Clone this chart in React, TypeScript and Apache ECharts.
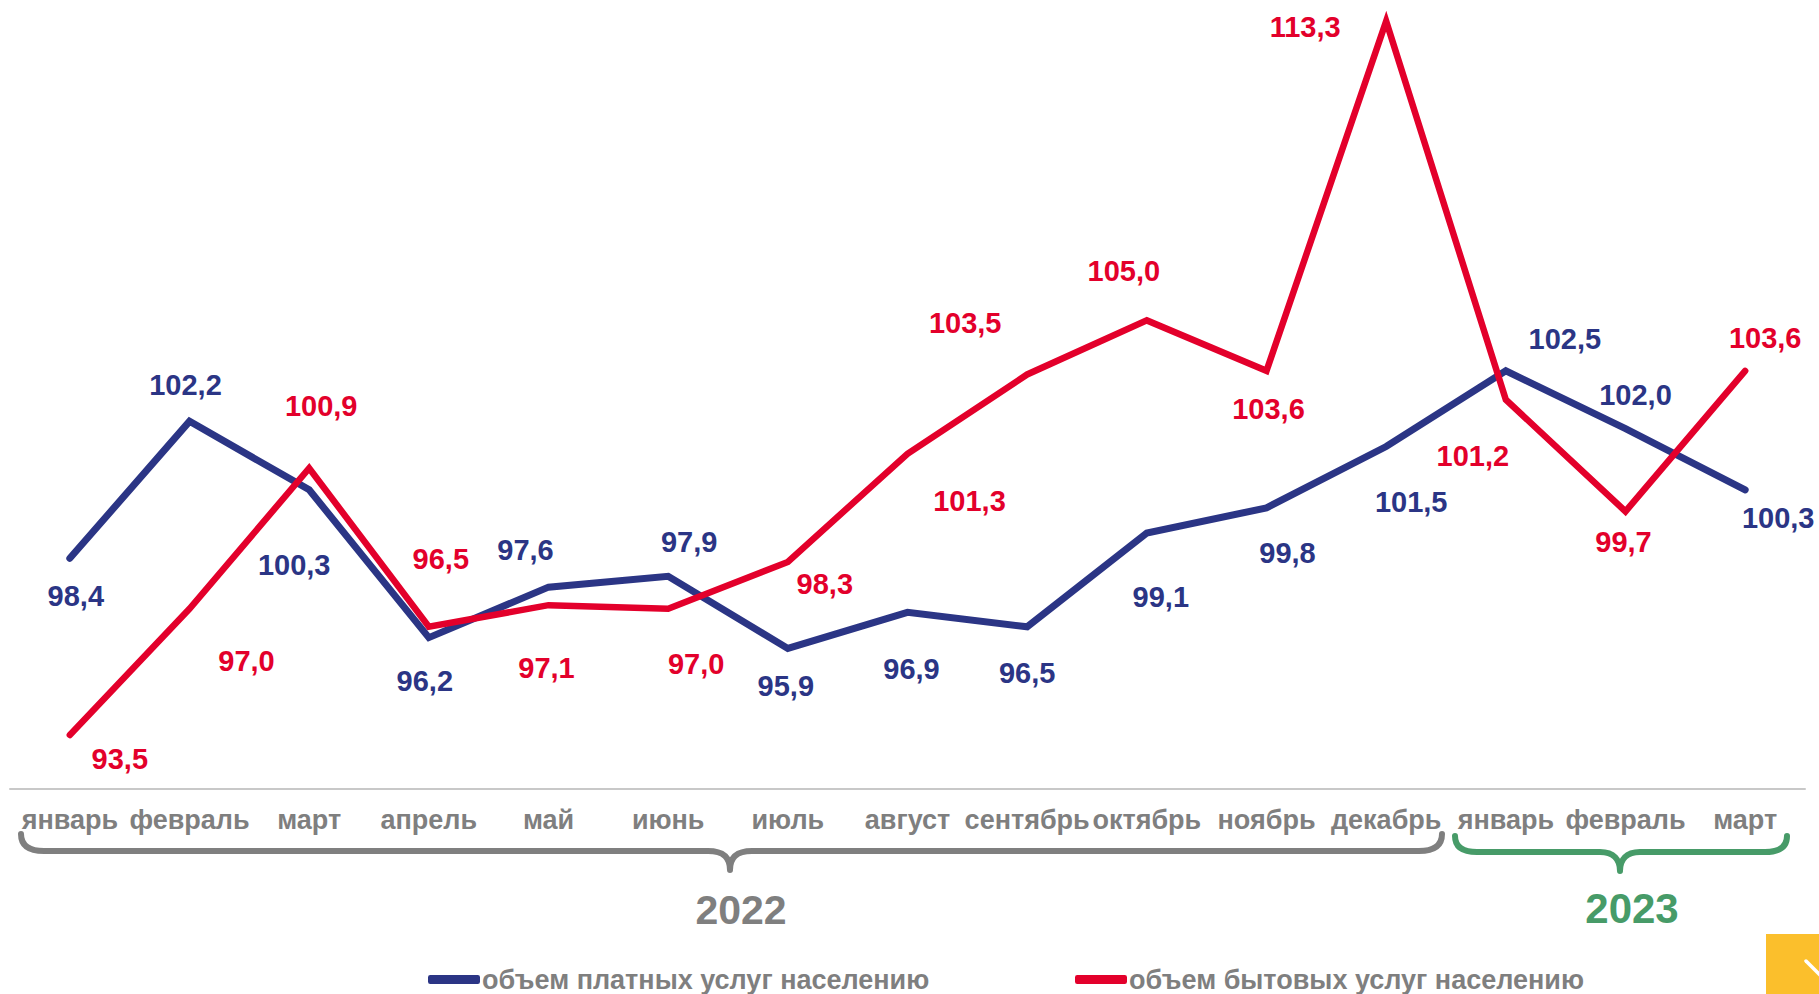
import React, { useEffect, useRef } from "react";
import * as echarts from "echarts";

const categories = [
  "январь", "февраль", "март", "апрель", "май", "июнь", "июль", "август",
  "сентябрь", "октябрь", "ноябрь", "декабрь", "январь", "февраль", "март",
];

// positions of the drawn lines
const paidValues = [98.4, 102.2, 100.3, 96.2, 97.6, 97.9, 95.9, 96.9, 96.5, 99.1, 99.8, 101.5, 103.6, 102.0, 100.3];
const householdValues = [93.5, 97.0, 100.9, 96.5, 97.1, 97.0, 98.3, 101.3, 103.5, 105.0, 103.6, 113.3, 102.8, 99.7, 103.6];

// printed data labels
const paidLabels = ["98,4", "102,2", "100,3", "96,2", "97,6", "97,9", "95,9", "96,9", "96,5", "99,1", "99,8", "101,5", "102,5", "102,0", "100,3"];
const householdLabels = ["93,5", "97,0", "100,9", "96,5", "97,1", "97,0", "98,3", "101,3", "103,5", "105,0", "103,6", "113,3", "101,2", "99,7", "103,6"];

const seriesNames = ["объем платных услуг населению", "объем бытовых услуг населению"];
const years = ["2022", "2023"];

// label offsets (px) from each point
const paidOffsets = [
  [6, 38], [-4, -36], [-15, 75], [-4, 43], [-23, -37], [21, -34], [-2, 38], [4, 57],
  [0, 46], [14, 64], [21, 45], [25, 55], [59, -32], [10, -34], [33, 28],
];
const householdOffsets = [
  [50, 24], [57, 52], [12, -62], [12, -68], [-2, 63], [28, 55], [37, 22], [62, 47],
  [-62, -51], [-23, -49], [2, 38], [-81, 6], [-33, 56], [-2, 31], [20, -33],
];

const BLUE = "#2B3585";
const RED = "#E3002B";
const GRAY = "#7F7F7F";
const GREEN = "#479B68";
const FONT = "'Liberation Sans', Arial, sans-serif";

const brace2022 =
  "M21,834 Q21,851 44,851 L708,851 C724,851 730,858 730,870 C730,858 736,851 752,851 L1419,851 Q1442,851 1442,834";
const brace2023 =
  "M1455,836 Q1455,852 1477,852 L1600,852 C1614,852 1620,860 1620,871 C1620,860 1626,852 1640,852 L1765,852 Q1787,852 1787,836";

echarts.graphic.registerShape("brace2022", echarts.graphic.extendPath(brace2022, {}));
echarts.graphic.registerShape("brace2023", echarts.graphic.extendPath(brace2023, {}));

function makeData(values: number[], labels: string[], offsets: number[][]) {
  return values.map((v, i) => ({
    value: v,
    label: { offset: offsets[i], formatter: labels[i] },
  }));
}

export default function App() {
  const ref = useRef<HTMLDivElement>(null);
  useEffect(() => {
    if (!ref.current) return;
    const chart = echarts.init(ref.current, undefined, { renderer: "svg" });
    const labelBase = (color: string) => ({
      show: true,
      position: "inside",
      color,
      fontSize: 29,
      fontWeight: "bold",
      fontFamily: FONT,
      align: "center",
      verticalAlign: "middle",
    });
    const legendText = { color: GRAY, fontSize: 27, fontWeight: "bold", fontFamily: FONT, padding: [0, 0, 0, -3] };
    chart.setOption({
      animation: false,
      backgroundColor: "#ffffff",
      grid: { left: 10, right: 14, top: 14, bottom: 205, containLabel: false },
      xAxis: {
        type: "category",
        data: categories,
        boundaryGap: true,
        axisLine: { show: true, lineStyle: { color: "#C8C8C8", width: 2 } },
        axisTick: { show: false },
        axisLabel: {
          interval: 0,
          margin: 17,
          color: GRAY,
          fontSize: 27,
          fontWeight: "bold",
          fontFamily: FONT,
        },
        splitLine: { show: false },
      },
      yAxis: {
        type: "value",
        min: 92,
        max: 113.5,
        show: false,
        splitLine: { show: false },
      },
      legend: [
        {
          data: [seriesNames[0]],
          left: 423,
          top: 961,
          icon: "roundRect",
          itemWidth: 52,
          itemHeight: 9,
          textStyle: legendText,
        },
        {
          data: [seriesNames[1]],
          left: 1070,
          top: 961,
          icon: "roundRect",
          itemWidth: 52,
          itemHeight: 9,
          textStyle: legendText,
        },
      ],
      series: [
        {
          name: seriesNames[0],
          type: "line",
          data: makeData(paidValues, paidLabels, paidOffsets),
          symbol: "circle",
          symbolSize: 1,
          showSymbol: true,
          clip: false,
          color: BLUE,
          itemStyle: { color: BLUE },
          lineStyle: { color: BLUE, width: 7, cap: "round", join: "miter" },
          label: labelBase(BLUE),
          z: 2,
        },
        {
          name: seriesNames[1],
          type: "line",
          data: makeData(householdValues, householdLabels, householdOffsets),
          symbol: "circle",
          symbolSize: 1,
          showSymbol: true,
          clip: false,
          color: RED,
          itemStyle: { color: RED },
          lineStyle: { color: RED, width: 6.5, cap: "round", join: "miter" },
          label: labelBase(RED),
          z: 3,
        },
      ],
      graphic: [
        {
          type: "brace2022",
          x: 0,
          y: 0,
          style: { fill: "none", stroke: GRAY, lineWidth: 6, lineCap: "round", lineJoin: "round" },
          silent: true,
        },
        {
          type: "brace2023",
          x: 0,
          y: 0,
          style: { fill: "none", stroke: GREEN, lineWidth: 6, lineCap: "round", lineJoin: "round" },
          silent: true,
        },
        {
          type: "text",
          x: 741,
          y: 910,
          style: {
            text: years[0],
            fill: GRAY,
            font: `bold 41px ${FONT}`,
            textAlign: "center",
            textVerticalAlign: "middle",
          },
        },
        {
          type: "text",
          x: 1632,
          y: 908,
          style: {
            text: years[1],
            fill: GREEN,
            font: `bold 42px ${FONT}`,
            textAlign: "center",
            textVerticalAlign: "middle",
          },
        },
        {
          type: "rect",
          shape: { x: 1766, y: 934, width: 60, height: 70 },
          style: { fill: "#FBBF2C" },
        },
        {
          type: "line",
          shape: { x1: 1806, y1: 961, x2: 1825, y2: 980 },
          style: { stroke: "#ffffff", lineWidth: 3.5, lineCap: "round" },
        },
      ],
    });
    return () => chart.dispose();
  }, []);
  return (
    <div
      ref={ref}
      style={{ position: "fixed", left: 0, top: 0, width: "1819px", height: "994px", background: "#fff" }}
    />
  );
}
